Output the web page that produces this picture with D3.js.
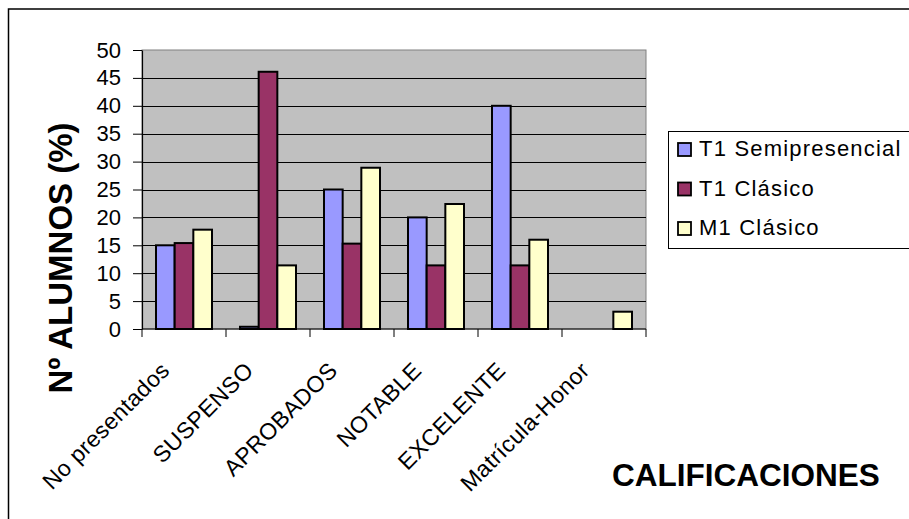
<!DOCTYPE html>
<html>
<head>
<meta charset="utf-8">
<script src="https://cdn.jsdelivr.net/npm/d3@7"></script>
<style>
  html, body { margin: 0; padding: 0; background: #fff; }
  svg { display: block; font-family: "Liberation Sans", Arial, sans-serif; }
</style>
</head>
<body>
<svg id="chart" width="909" height="519"></svg>
<script>
// Grade categories
const categories = ["No presentados", "SUSPENSO", "APROBADOS", "NOTABLE", "EXCELENTE", "Matrícula-Honor"];
// Series (percentage of students per grade)
const seriesNames = ["T1 Semipresencial", "T1 Clásico", "M1 Clásico"];
const t1Semipresencial = [15, 0.4, 25, 20, 40, 0];
const t1Clasico = [15.4, 46.1, 15.3, 11.4, 11.4, 0];
const m1Clasico = [17.8, 11.4, 28.9, 22.4, 16.0, 3.1];
const yTicks = [0, 5, 10, 15, 20, 25, 30, 35, 40, 45, 50];
const colors = ["#9999FF", "#993366", "#FFFFCC"];

const seriesValues = [t1Semipresencial, t1Clasico, m1Clasico];

const svg = d3.select("#chart");
const plot = { left: 142, right: 646, top: 50, bottom: 329 };

// Outer chart frame
svg.append("rect")
  .attr("x", 8.5).attr("y", 9)
  .attr("width", 1000).attr("height", 1000)
  .attr("fill", "#fff").attr("stroke", "#000").attr("stroke-width", 1.5);

const x0 = d3.scaleBand().domain(categories).range([plot.left, plot.right]);
const x1 = d3.scaleBand().domain(seriesNames).range([0, x0.bandwidth()])
  .paddingInner(0).paddingOuter(0.75);
const y = d3.scaleLinear().domain([0, 50]).range([plot.bottom, plot.top]);

// Plot background
svg.append("rect")
  .attr("x", plot.left).attr("y", plot.top)
  .attr("width", plot.right - plot.left).attr("height", plot.bottom - plot.top)
  .attr("fill", "#C0C0C0").attr("stroke", "#808080").attr("stroke-width", 1);

// Horizontal gridlines
svg.append("g").selectAll("line")
  .data(yTicks.filter(d => d > 0 && d < 50))
  .join("line")
  .attr("x1", plot.left).attr("x2", plot.right)
  .attr("y1", d => Math.round(y(d)) + 0.5).attr("y2", d => Math.round(y(d)) + 0.5)
  .attr("stroke", "#000").attr("stroke-width", 1);

// Bars
const groups = svg.append("g").selectAll("g")
  .data(categories)
  .join("g")
  .attr("transform", d => `translate(${x0(d)},0)`);

groups.selectAll("rect")
  .data((c, i) => seriesNames.map((s, k) => ({ s, v: seriesValues[k][i], k })))
  .join("rect")
  .filter(d => d.v > 0)
  .attr("x", d => x1(d.s))
  .attr("y", d => y(d.v))
  .attr("width", x1.bandwidth())
  .attr("height", d => y(0) - y(d.v))
  .attr("fill", d => colors[d.k])
  .attr("stroke", "#000").attr("stroke-width", 2);

// Y axis
const yAxis = d3.axisLeft(y).tickValues(yTicks).tickSize(9).tickPadding(12).tickSizeOuter(0);
const gy = svg.append("g").attr("transform", `translate(${plot.left},0)`).call(yAxis);
gy.select(".domain").attr("stroke", "#000").attr("stroke-width", 1.2);
gy.selectAll(".tick line").attr("stroke", "#000");
gy.selectAll(".tick text")
  .attr("font-size", 22).attr("fill", "#000")
  .attr("font-family", "Liberation Sans, Arial, sans-serif");

// X axis line with category boundary ticks
svg.append("line")
  .attr("x1", plot.left).attr("x2", plot.right)
  .attr("y1", plot.bottom).attr("y2", plot.bottom)
  .attr("stroke", "#000").attr("stroke-width", 1.2);
const boundaries = categories.map(c => x0(c)).concat([plot.right]);
svg.append("g").selectAll("line")
  .data(boundaries)
  .join("line")
  .attr("x1", d => d).attr("x2", d => d)
  .attr("y1", plot.bottom).attr("y2", plot.bottom + 8)
  .attr("stroke", "#000").attr("stroke-width", 1);

// Rotated category labels
svg.append("g").selectAll("text")
  .data(categories)
  .join("text")
  .attr("transform", d => `translate(${x0(d) + x0.bandwidth() / 2 - 25},${plot.bottom + 31}) rotate(-45)`)
  .attr("text-anchor", "end")
  .attr("dominant-baseline", "hanging")
  .attr("font-size", 23)
  .attr("letter-spacing", 0.4)
  .attr("fill", "#000")
  .text(d => d);

// Axis titles
svg.append("text")
  .attr("transform", "translate(72,258) rotate(-90)")
  .attr("text-anchor", "middle")
  .attr("font-size", 33).attr("font-weight", "bold")
  .text("Nº ALUMNOS (%)");

svg.append("text")
  .attr("x", 612).attr("y", 486)
  .attr("font-size", 31.5).attr("font-weight", "bold")
  .text("CALIFICACIONES");

// Legend
const legend = svg.append("g");
legend.append("rect")
  .attr("x", 668.5).attr("y", 131.5)
  .attr("width", 400).attr("height", 117)
  .attr("fill", "#fff").attr("stroke", "#000").attr("stroke-width", 1);
const items = legend.selectAll("g.item")
  .data(seriesNames)
  .join("g")
  .attr("class", "item")
  .attr("transform", (d, i) => `translate(0,${156 + i * 39.5})`);
items.append("rect")
  .attr("x", 678).attr("y", -13)
  .attr("width", 13).attr("height", 13)
  .attr("fill", (d, i) => colors[i])
  .attr("stroke", "#000").attr("stroke-width", 1.8);
items.append("text")
  .attr("x", 699).attr("y", 0)
  .attr("font-size", 22)
  .attr("letter-spacing", 1.2)
  .text(d => d);
</script>
</body>
</html>
